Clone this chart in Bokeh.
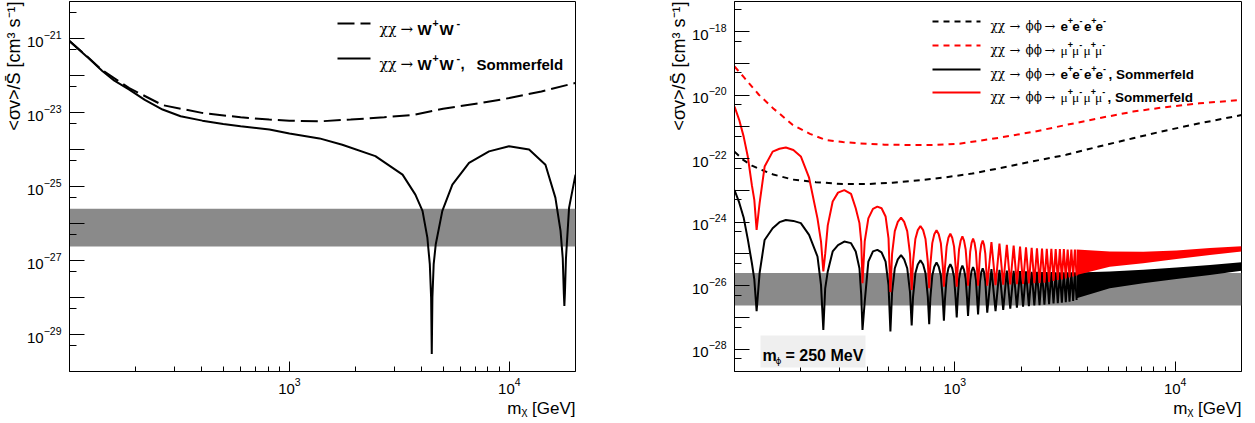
import numpy as np
from bokeh.plotting import figure
from bokeh.layouts import row
from bokeh.models import Range1d, FixedTicker, Label, Arrow, BoxAnnotation, Title
from bokeh.embed import file_html
from bokeh.resources import INLINE

# ---------------- data (m_chi in GeV ; log10 of <sigma v>/S in cm^3 s^-1) ----------------
# left panel : chi chi -> W+ W-
ww_mass = [100, 120, 141, 187, 265, 400, 600, 810, 1000, 1370, 1900, 2700, 3700, 5000, 7500, 10000, 14000, 20000]
ww_log = [-21.07, -21.48, -21.86, -22.34, -22.80, -23.01, -23.13, -23.19, -23.22, -23.24, -23.19, -23.13, -23.06,
          -22.90, -22.74, -22.61, -22.43, -22.20]

ww_som_mass = [100, 120, 141, 160, 187, 220, 265, 320, 402, 500, 600, 811, 1000, 1370,
               1740, 2460, 3270, 3740, 4030, 4240, 4350, 4410, 4440, 4470,
               4530, 4630, 4960, 5510, 6560, 8090, 9970, 12300, 14600, 16200,
               17100, 17500, 17700, 17800, 17900, 18100, 18700, 20000]
ww_som_log = [-21.07, -21.49, -21.88, -22.14, -22.38, -22.66, -22.92, -23.10, -23.22, -23.31, -23.37, -23.46,
              -23.57, -23.70,
              -23.87, -24.18, -24.68, -25.22, -25.66, -26.38, -27.10, -28.00, -29.53, -28.00,
              -27.10, -26.56, -25.66, -24.95, -24.36, -24.05, -23.91, -24.00, -24.41, -25.30,
              -26.20, -26.94, -27.89, -28.23, -27.89, -26.94, -25.57, -24.68]

# right panel : chi chi -> phi phi -> 4 leptons (m_phi = 250 MeV)
ee_mass = [100, 110, 120, 130, 150, 184, 234, 310, 400, 522, 700, 882, 1200, 1600, 2200, 3200, 4500, 6440, 9000,
           12900, 20000]
ee_log = [-21.78, -22.05, -22.22, -22.33, -22.50, -22.66, -22.74, -22.80, -22.80, -22.76, -22.68, -22.60, -22.47,
          -22.30, -22.10, -21.88, -21.62, -21.36, -21.12, -20.89, -20.63]

mu_mass = [100, 110, 129, 150, 184, 220, 259, 310, 369, 480, 621, 794, 1050, 1600, 2300, 3200, 4500, 6440, 9000,
           12900, 20000]
mu_log = [-19.10, -19.43, -19.99, -20.42, -20.94, -21.22, -21.41, -21.48, -21.52, -21.56, -21.57, -21.57, -21.53,
          -21.34, -21.15, -20.94, -20.73, -20.52, -20.38, -20.26, -20.15]

som_mass = [100, 105, 110, 115, 120, 123, 126,
            130, 137, 149, 160, 171, 185, 200, 218, 238, 247, 253,
            258, 265, 279, 295, 315, 338, 355, 369, 376, 381,
            390, 405, 425, 445, 465, 485, 500, 510,
            519, 534, 551, 570, 589, 608, 626, 637,
            646, 662, 679, 698, 718, 736, 754, 765,
            774, 790, 807, 826, 845, 864, 881, 892,
            902, 918, 935, 954, 973, 992, 1009, 1020,
            1030, 1045, 1063, 1082, 1101, 1120, 1137, 1148,
            1174, 1191, 1210, 1229, 1247, 1275,
            1301, 1318, 1338, 1357, 1375, 1403,
            1466, 1530, 1594, 1658, 1722, 1785, 1849, 1913, 1977, 2040,
            2104, 2168, 2232, 2295, 2359, 2423, 2487, 2550,
            2614, 2678, 2742, 2805, 2869, 2933, 2997, 3060,
            3124, 3188, 3252, 3315, 3379, 3443, 3507, 3570]
som_ee_log = [-22.99, -23.38, -23.85, -24.55, -25.30, -25.80, -26.80,
              -25.60, -24.56, -24.19, -24.00, -23.93, -23.96, -24.03, -24.40, -25.08, -25.98, -27.39,
              -26.08, -25.55, -24.92, -24.72, -24.61, -24.66, -24.92, -25.45, -26.29, -27.39,
              -26.50, -25.24, -24.92, -24.87, -24.95, -25.24, -25.98, -27.44,
              -26.20, -25.45, -25.17, -25.04, -25.17, -25.45, -26.20, -27.25,
              -26.35, -25.61, -25.33, -25.20, -25.33, -25.61, -26.35, -27.21,
              -26.40, -25.68, -25.40, -25.27, -25.40, -25.68, -26.40, -27.10,
              -26.42, -25.73, -25.45, -25.32, -25.45, -25.73, -26.42, -27.00,
              -26.42, -25.78, -25.50, -25.37, -25.50, -25.78, -26.42, -26.95,
              -25.82, -25.54, -25.41, -25.54, -25.82, -26.90,
              -25.86, -25.58, -25.45, -25.58, -25.86, -26.85,
              -25.48, -26.80, -25.50, -26.76, -25.52, -26.72, -25.53, -26.69, -25.54, -26.66,
              -25.55, -26.64, -25.56, -26.62, -25.56, -26.61, -25.57, -26.60,
              -25.57, -26.58, -25.57, -26.56, -25.58, -26.55, -25.58, -26.53,
              -25.58, -26.52, -25.58, -26.50, -25.58, -26.48, -25.58, -26.45]
som_mu_log = [-20.36, -20.78, -21.30, -21.95, -22.85, -23.30, -24.24,
              -23.40, -22.25, -21.78, -21.69, -21.65, -21.73, -21.93, -22.60, -23.88, -24.61, -25.55,
              -25.00, -24.10, -23.35, -23.07, -22.99, -23.11, -23.56, -24.03, -24.61, -25.92,
              -24.60, -23.88, -23.58, -23.51, -23.56, -23.82, -24.51, -26.20,
              -25.00, -24.28, -23.99, -23.86, -23.99, -24.28, -25.00, -26.13,
              -25.25, -24.53, -24.25, -24.12, -24.25, -24.53, -25.25, -26.08,
              -25.35, -24.66, -24.38, -24.25, -24.38, -24.66, -25.35, -26.03,
              -25.42, -24.77, -24.49, -24.36, -24.49, -24.77, -25.42, -26.03,
              -25.45, -24.86, -24.58, -24.45, -24.58, -24.86, -25.45, -26.00,
              -24.93, -24.65, -24.52, -24.65, -24.93, -26.00,
              -24.99, -24.71, -24.58, -24.71, -24.99, -26.00,
              -24.63, -25.98, -24.67, -25.97, -24.71, -25.96, -24.74, -25.95, -24.77, -25.94,
              -24.79, -25.93, -24.81, -25.92, -24.82, -25.91, -24.83, -25.90,
              -24.84, -25.88, -24.84, -25.85, -24.85, -25.82, -24.85, -25.80,
              -24.85, -25.77, -24.86, -25.74, -24.86, -25.71, -24.86, -25.68]

# unresolved (dense) oscillation region : envelopes
dense_mass = [3570, 5050, 7160, 10140, 14380, 20000]
dense_mu_top = [-24.86, -24.92, -24.93, -24.89, -24.81, -24.76]
dense_mu_bot = [-25.66, -25.40, -25.29, -25.16, -25.03, -24.92]
dense_ee_top = [-25.58, -25.55, -25.50, -25.43, -25.35, -25.26]
dense_ee_bot = [-26.39, -26.08, -25.92, -25.79, -25.66, -25.53]

# thermal relic band
relic_lo = 2.4e-27
relic_hi = 2.5e-26

# axis ticks
x_major = [1e3, 1e4]
x_minor = [200, 300, 400, 500, 600, 700, 800, 900, 2000, 3000, 4000, 5000, 6000, 7000, 8000, 9000]
left_y_major = [1e-29, 1e-28, 1e-27, 1e-26, 1e-25, 1e-24, 1e-23, 1e-22, 1e-21]
left_y_labeled = [1e-29, 1e-27, 1e-25, 1e-23, 1e-21]
left_y_minor = [5e-30, 5e-29, 5e-28, 5e-27, 5e-26, 5e-25, 5e-24, 5e-23, 5e-22, 5e-21]
right_y_major = [1e-28, 1e-27, 1e-26, 1e-25, 1e-24, 1e-23, 1e-22, 1e-21, 1e-20, 1e-19, 1e-18]
right_y_labeled = [1e-28, 1e-26, 1e-24, 1e-22, 1e-20, 1e-18]
right_y_minor = [5e-29, 5e-28, 5e-27, 5e-26, 5e-25, 5e-24, 5e-23, 5e-22, 5e-21, 5e-20, 5e-19, 5e-18]

# ---------------- helpers ----------------
FRAME_H = 370
SANS = "Liberation Sans"
GREEK = "DejaVu Serif"


def pw(a):
    return 10.0 ** np.asarray(a, dtype=float)


def make_fig(y_lo, y_hi, frame_w, b_left, b_right, y_major, y_labeled, y_minor):
    p = figure(x_axis_type="log", y_axis_type="log",
               x_range=Range1d(100, 20000), y_range=Range1d(y_lo, y_hi),
               frame_width=frame_w, frame_height=FRAME_H,
               min_border_left=b_left, min_border_right=b_right,
               min_border_top=1, min_border_bottom=46,
               output_backend="svg", toolbar_location=None, title=None,
               background_fill_color="white", border_fill_color="white")
    p.grid.visible = False
    p.outline_line_color = "black"
    p.outline_line_width = 1
    p.outline_line_alpha = 1

    xa = p.xaxis[0]
    xa.ticker = FixedTicker(ticks=x_major, minor_ticks=x_minor)
    xa.major_tick_in = 10
    xa.major_tick_out = 0
    xa.minor_tick_in = 5
    xa.minor_tick_out = 0
    xa.major_label_standoff = 6

    ya = p.yaxis[0]
    ya.ticker = FixedTicker(ticks=y_major, minor_ticks=y_minor)
    ya.major_tick_in = 15
    ya.major_tick_out = 0
    ya.minor_tick_in = 7
    ya.minor_tick_out = 0
    ya.major_label_standoff = 8
    ya.major_label_overrides = {t: "" for t in y_major if t not in y_labeled}

    for ax in (xa, ya):
        ax.axis_line_color = "black"
        ax.major_tick_line_color = "black"
        ax.minor_tick_line_color = "black"
        ax.major_label_text_color = "black"
        ax.major_label_text_font = SANS
        ax.major_label_text_font_size = "15px"

    p.add_layout(BoxAnnotation(bottom=relic_lo, top=relic_hi, fill_color="#8a8a8a", fill_alpha=1.0,
                               line_alpha=0, level="underlay"))
    p.add_layout(Title(text="<σv>/S\u0304 [cm³ s⁻¹]", align="right", text_font=SANS,
                       text_font_size="18px", text_font_style="normal", text_color="black",
                       standoff=2), "left")
    p.add_layout(Title(text="m\u1d6a [GeV]", align="right", text_font=SANS,
                       text_font_size="17px", text_font_style="normal", text_color="black",
                       standoff=0), "below")
    return p


def lab(p, x, y, text, size, font=SANS, style="normal"):
    p.add_layout(Label(x=x, y=y, x_units="screen", y_units="screen", text=text, text_font=font,
                       text_font_size=f"{size}px", text_font_style=style, text_align="left",
                       text_baseline="alphabetic", text_color="black"))


def seg(p, x0, x1, y, color, dash):
    p.add_layout(Arrow(end=None, x_start=x0, y_start=y, x_end=x1, y_end=y,
                       start_units="screen", end_units="screen",
                       line_color=color, line_width=2, line_dash=dash))


def particles(p, x0, base, letter, signs, step, size, font, style):
    # letters with raised charge signs, e.g. e+e-e+e-
    for i, s in enumerate(signs):
        lab(p, x0 + i * step, base, letter, size, font=font, style=style)
        lab(p, x0 + i * step + step * 0.63, base + 5, s, 9, style="bold")


# ---------------- left panel ----------------
p1 = make_fig(1e-30, 1e-20, 506, 65, 55, left_y_major, left_y_labeled, left_y_minor)
p1.line(ww_mass, pw(ww_log), line_color="black", line_width=2, line_dash="17 6")
p1.line(ww_som_mass, pw(ww_som_log), line_color="black", line_width=2)

for dy, dash in ((22, "17 6"), (57, "solid")):
    base = FRAME_H - dy - 5.5
    seg(p1, 268, 301, FRAME_H - dy, "black", dash)
    lab(p1, 310, base, "χχ", 14, font=GREEK)
    lab(p1, 331, base, "→", 15, font=GREEK)
    lab(p1, 348, base, "W", 15, style="bold")
    lab(p1, 363, base + 6, "+", 10.5, style="bold")
    lab(p1, 370, base, "W", 15, style="bold")
    lab(p1, 387, base + 6, "-", 11, style="bold")
lab(p1, 391, FRAME_H - 57 - 5.5, ",", 15, style="bold")
lab(p1, 407, FRAME_H - 57 - 5.5, "Sommerfeld", 15, style="bold")

# ---------------- right panel ----------------
p2 = make_fig(2.0e-29, 8.8e-18, 507, 104, 8, right_y_major, right_y_labeled, right_y_minor)
p2.line(ee_mass, pw(ee_log), line_color="black", line_width=2, line_dash="6 5")
p2.line(mu_mass, pw(mu_log), line_color="red", line_width=2, line_dash="6 5")
p2.line(som_mass, pw(som_ee_log), line_color="black", line_width=2)
p2.varea(x=dense_mass, y1=pw(dense_ee_bot), y2=pw(dense_ee_top), fill_color="black")
p2.line(som_mass, pw(som_mu_log), line_color="red", line_width=2)
p2.varea(x=dense_mass, y1=pw(dense_mu_bot), y2=pw(dense_mu_top), fill_color="red")

legend_rows = [20, 44, 68, 91]
legend_colors = ["black", "red", "black", "red"]
legend_dash = ["6 5", "6 5", "solid", "solid"]
for r, c, d in zip(legend_rows, legend_colors, legend_dash):
    base = FRAME_H - r - 4.8
    seg(p2, 198, 246, FRAME_H - r, c, d)
    lab(p2, 256, base, "χχ", 12, font=GREEK)
    lab(p2, 275, base, "→", 13, font=GREEK)
    lab(p2, 291, base, "ϕϕ", 12, font=GREEK)
    lab(p2, 310, base, "→", 13, font=GREEK)

signs = ["+", "-", "+", "-"]
particles(p2, 326, FRAME_H - legend_rows[0] - 4.8, "e", signs, 11.7, 13.5, SANS, "bold")
particles(p2, 326, FRAME_H - legend_rows[1] - 4.8, "μ", signs, 11.5, 13.5, "Liberation Serif", "normal")
particles(p2, 326, FRAME_H - legend_rows[2] - 4.8, "e", signs, 11.7, 13.5, SANS, "bold")
particles(p2, 326, FRAME_H - legend_rows[3] - 4.8, "μ", signs, 11.5, 13.5, "Liberation Serif", "normal")
lab(p2, 374, FRAME_H - legend_rows[2] - 4.8, ", Sommerfeld", 13.5, style="bold")
lab(p2, 373, FRAME_H - legend_rows[3] - 4.8, ", Sommerfeld", 13.5, style="bold")

p2.add_layout(BoxAnnotation(left=26, right=131, bottom=4, top=36,
                            left_units="screen", right_units="screen",
                            bottom_units="screen", top_units="screen",
                            fill_color="#efefef", fill_alpha=1.0, line_alpha=0))
lab(p2, 28, 16, "m", 16, style="bold")
lab(p2, 41, 11, "ϕ", 9, font="DejaVu Sans", style="normal")
lab(p2, 51, 16, "= 250 MeV", 16, style="bold")

layout = row(p1, p2)
open("out.html", "w").write(file_html(layout, INLINE, title="sommerfeld"))
